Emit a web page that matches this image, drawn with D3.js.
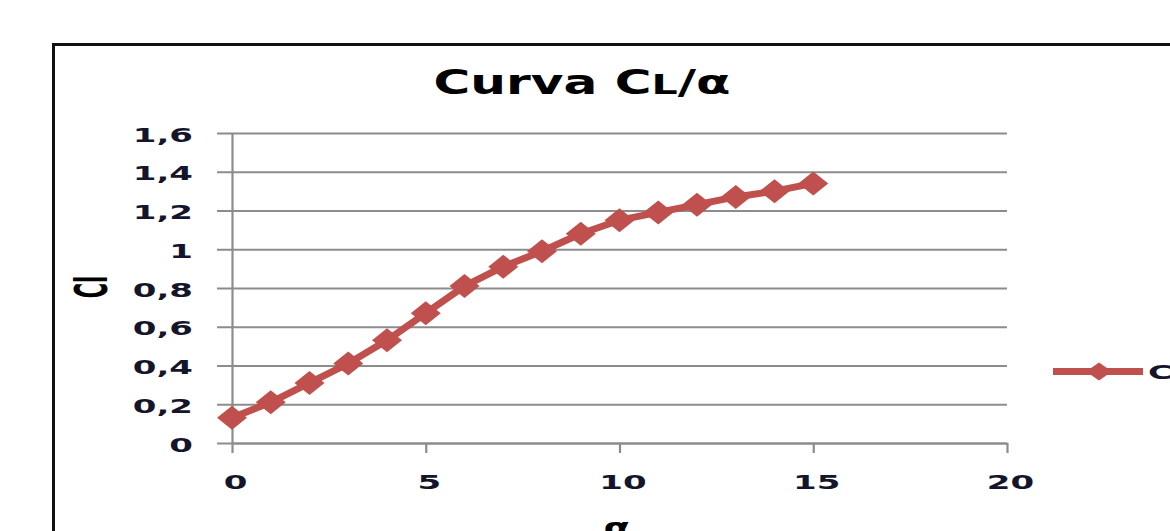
<!DOCTYPE html>
<html>
<head>
<meta charset="utf-8">
<script src="https://cdn.jsdelivr.net/npm/d3@7"></script>
<style>
  html, body { margin: 0; padding: 0; background: #fff; overflow: hidden; }
  svg { display: block; }
</style>
</head>
<body>
<script>
// Lift coefficient versus angle of attack
const alpha = [0, 1, 2, 3, 4, 5, 6, 7, 8, 9, 10, 11, 12, 13, 14, 15];
const cl = [0.13, 0.21, 0.31, 0.41, 0.53, 0.67, 0.81, 0.91, 0.99, 1.08, 1.15, 1.19, 1.23, 1.27, 1.30, 1.34];

const yTickValues = [0, 0.2, 0.4, 0.6, 0.8, 1, 1.2, 1.4, 1.6];
const yTickLabels = ["0", "0,2", "0,4", "0,6", "0,8", "1", "1,2", "1,4", "1,6"];
const xTickValues = [0, 5, 10, 15, 20];
const xTickLabels = ["0", "5", "10", "15", "20"];

const seriesName = "Cl";
const titleMain = "Curva C";
const titleSub = "L";
const titleEnd = "/α";
const xTitle = "α";
const yTitle = "Cl";

const W = 1170, H = 531;
const plot = { left: 232, right: 1007, top: 133, bottom: 443 };
const red = "#C0504D";
const gridColor = "#8c8c8c";
const textColor = "#14142a";
const font = "'DejaVu Sans', Verdana, sans-serif";

const svg = d3.select("body").append("svg")
  .attr("width", W).attr("height", H);

// chart frame (runs off the right and bottom edges)
svg.append("rect")
  .attr("x", 53.5).attr("y", 44.5)
  .attr("width", 1300).attr("height", 700)
  .attr("fill", "#fff")
  .attr("stroke", "#111").attr("stroke-width", 3);

const x = d3.scaleLinear().domain([0, 20]).range([plot.left, plot.right]);
const y = d3.scaleLinear().domain([0, 1.6]).range([plot.bottom, plot.top]);

// y axis with horizontal gridlines
const yAxis = svg.append("g")
  .attr("transform", `translate(${plot.left},0)`)
  .call(d3.axisLeft(y)
    .tickValues(yTickValues)
    .tickFormat((d, i) => yTickLabels[i])
    .tickSizeOuter(0));
yAxis.select(".domain").attr("stroke", gridColor).attr("stroke-width", 2.2);
yAxis.selectAll(".tick line")
  .attr("x1", -15).attr("x2", plot.right - plot.left)
  .attr("stroke", gridColor).attr("stroke-width", 2.2);
yAxis.selectAll(".tick text")
  .attr("x", 0).attr("dy", "0.36em")
  .attr("transform", "translate(-39,1) scale(1.7,1)")
  .attr("fill", textColor)
  .style("font-family", font).style("font-size", "20px").style("font-weight", "600");

// x axis
const xAxis = svg.append("g")
  .attr("transform", `translate(0,${plot.bottom})`)
  .call(d3.axisBottom(x)
    .tickValues(xTickValues)
    .tickFormat((d, i) => xTickLabels[i])
    .tickSizeInner(10)
    .tickSizeOuter(0));
xAxis.select(".domain").attr("stroke", gridColor).attr("stroke-width", 2.2);
xAxis.selectAll(".tick line").attr("stroke", gridColor).attr("stroke-width", 2.2);
xAxis.selectAll(".tick text")
  .attr("y", 0).attr("dy", 0)
  .attr("transform", "translate(3,46) scale(1.7,1)")
  .attr("fill", textColor)
  .style("font-family", font).style("font-size", "20px").style("font-weight", "600");

// series line
const pts = alpha.map((a, i) => [a, cl[i]]);
svg.append("path")
  .datum(pts)
  .attr("fill", "none")
  .attr("stroke", red)
  .attr("stroke-width", 7)
  .attr("stroke-linejoin", "round")
  .attr("d", d3.line().x(d => x(d[0])).y(d => y(d[1])));

// diamond markers
const diamond = (hw, hh) => `M${-hw},0L0,${-hh}L${hw},0L0,${hh}Z`;
svg.append("g").selectAll("path")
  .data(pts)
  .join("path")
  .attr("transform", d => `translate(${x(d[0])},${y(d[1])})`)
  .attr("d", diamond(15, 12))
  .attr("fill", red);

// title
const title = svg.append("text")
  .attr("transform", "translate(582,94) scale(1.52,1)")
  .attr("text-anchor", "middle")
  .attr("fill", "#000")
  .style("font-family", font).style("font-size", "33px").style("font-weight", "bold");
title.append("tspan").text(titleMain);
title.append("tspan").style("font-size", "27px").text(titleSub);
title.append("tspan").text(titleEnd);

// axis titles
svg.append("text")
  .attr("transform", "translate(617,537) scale(1.5,1)")
  .attr("text-anchor", "middle")
  .attr("fill", "#000")
  .style("font-family", font).style("font-size", "26px").style("font-weight", "bold")
  .text(xTitle);

svg.append("text")
  .attr("transform", "translate(91,287) scale(2.1,1) rotate(-90)")
  .attr("text-anchor", "middle")
  .attr("dy", "0.36em")
  .attr("fill", "#000")
  .style("font-family", font).style("font-size", "21px").style("font-weight", "bold")
  .text(yTitle);

// legend
const lg = svg.append("g").attr("transform", "translate(1053,371.5)");
lg.append("line")
  .attr("x1", 0).attr("x2", 90)
  .attr("stroke", red).attr("stroke-width", 7);
lg.append("path")
  .attr("transform", "translate(46,0)")
  .attr("d", diamond(13, 9))
  .attr("fill", red);
lg.append("text")
  .attr("transform", "translate(95,0) scale(1.7,1)")
  .attr("dy", "0.36em")
  .attr("fill", textColor)
  .style("font-family", font).style("font-size", "20px").style("font-weight", "600")
  .text(seriesName);
</script>
</body>
</html>
